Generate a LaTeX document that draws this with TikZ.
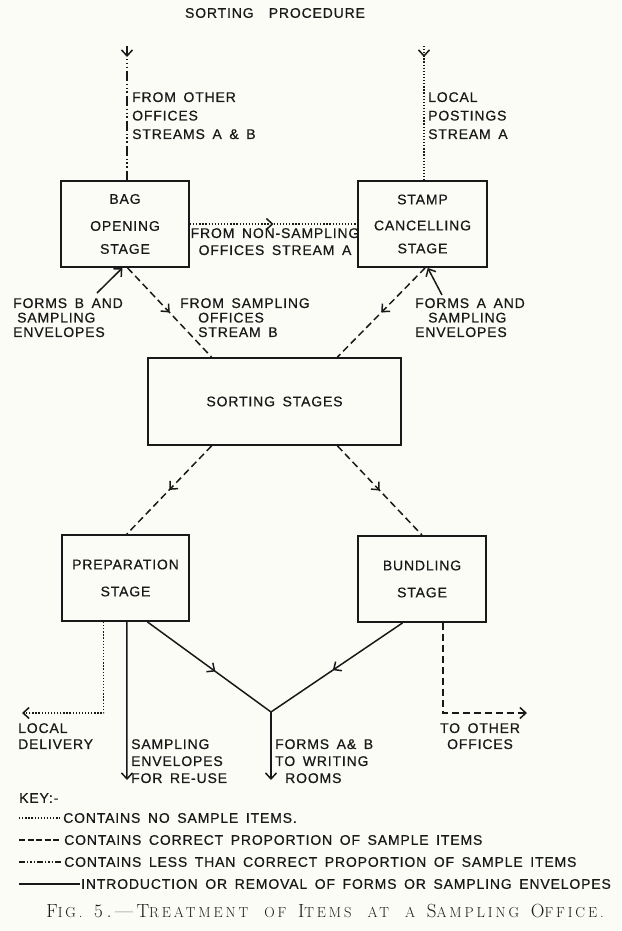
\documentclass[tikz,border=0pt]{standalone}
\usepackage{fontspec}
\usetikzlibrary{arrows.meta,decorations.markings,calc}
\newfontfamily\diag{Liberation Sans}[LetterSpace=6,WordSpace=1.6,FakeBold=0.6]
\newfontfamily\capfont{Latin Modern Roman}[LetterSpace=20,WordSpace=2.2]
\newcommand\capA[1]{{\fontsize{19}{20}\selectfont #1}}
\newcommand\capB[1]{{\fontsize{14.5}{20}\selectfont #1}}
\definecolor{paper}{RGB}{252,252,247}
\definecolor{ink}{RGB}{25,25,25}
\begin{document}
\begin{tikzpicture}[x=1pt,y=-1pt,
  every node/.style={text=ink},
  stagebox/.style={draw=ink,line width=1.8pt,inner sep=0pt,align=center,
    font=\diag\fontsize{14}{23}\selectfont},
  lbl/.style={inner sep=0pt,align=left,font=\diag\fontsize{14}{15}\selectfont},
  conn/.style={draw=ink,line width=1.5pt},
  nosample/.style={conn,dash pattern=on 1.3pt off 1.8pt},
  correct/.style={conn,dash pattern=on 7pt off 4pt},
  lesscorrect/.style={conn,dash pattern=on 10pt off 3pt on 1.3pt off 2.5pt on 1.3pt off 2.5pt on 1.3pt off 3pt},
  formline/.style={conn},
  tipend/.style={-{Straight Barb[length=6pt,width=11pt]}},
  midarrow/.style={postaction={decorate,decoration={markings,
    mark=at position #1 with {\arrow[ink]{Straight Barb[length=6pt,width=11pt]}}}}},
  midarrow/.default=0.5]
\fill[paper] (0,0) rectangle (621,931);
\useasboundingbox (0,0) rectangle (621,931);

% title
\node[lbl] (title) at (275,13) {SORTING\ \ PROCEDURE};

% boxes
\node[stagebox,minimum width=128pt,minimum height=86pt] (bag) at (125,224)
  {BAG\\[4pt]OPENING\\STAGE};
\node[stagebox,minimum width=129pt,minimum height=86pt] (stamp) at (422.5,224)
  {STAMP\\[3pt]CANCELLING\\STAGE};
\node[stagebox,minimum width=253pt,minimum height=87pt] (sorting) at (274.5,401.5)
  {SORTING STAGES};
\node[stagebox,minimum width=127pt,minimum height=86pt,
  font=\diag\fontsize{14}{27}\selectfont] (prep) at (125.5,578)
  {PREPARATION\\STAGE};
\node[stagebox,minimum width=128pt,minimum height=86pt,
  font=\diag\fontsize{14}{27}\selectfont] (bundling) at (422,579)
  {BUNDLING\\STAGE};

% labels
\node[lbl,anchor=north west,font=\diag\fontsize{14}{18.5}\selectfont] (fromother) at (132,92)
  {FROM OTHER\\OFFICES\\STREAMS A \& B};
\node[lbl,anchor=north west,font=\diag\fontsize{14}{18.5}\selectfont] (localpost) at (428,92)
  {LOCAL\\POSTINGS\\STREAM A};
\node[lbl,anchor=north,align=center,font=\diag\fontsize{14}{17}\selectfont] (nonsamp) at (275,228)
  {FROM NON-SAMPLING\\OFFICES STREAM A};
\node[lbl,anchor=north west,font=\diag\fontsize{14}{14.5}\selectfont] (formsB) at (13,298)
  {FORMS B AND\\\hspace*{4pt}SAMPLING\\ENVELOPES};
\node[lbl,anchor=north west,font=\diag\fontsize{14}{14.5}\selectfont] (fromsamp) at (180,298)
  {FROM SAMPLING\\\hspace*{18pt}OFFICES\\\hspace*{18pt}STREAM B};
\node[lbl,anchor=north west,font=\diag\fontsize{14}{14.5}\selectfont] (formsA) at (415,298)
  {FORMS A AND\\\hspace*{13pt}SAMPLING\\ENVELOPES};
\node[lbl,anchor=north west,font=\diag\fontsize{14}{16}\selectfont] (localdel) at (18,723)
  {LOCAL\\DELIVERY};
\node[lbl,anchor=north west,font=\diag\fontsize{14}{17}\selectfont] (reuse) at (131,739)
  {SAMPLING\\ENVELOPES\\FOR RE-USE};
\node[lbl,anchor=north west,font=\diag\fontsize{14}{17}\selectfont] (writing) at (275,739)
  {FORMS A\& B\\TO WRITING\\\hspace*{10pt}ROOMS};
\node[lbl,anchor=north,align=center,font=\diag\fontsize{14}{16}\selectfont] (toother) at (480,723)
  {TO OTHER\\OFFICES};

% free ends
\coordinate (topL) at (127,46);
\coordinate (topR) at (424,46);
\coordinate (fbs) at (97,293);
\coordinate (fas) at (442,295);
\coordinate (junc) at (271,712);
\coordinate (localend) at (22,713);
\coordinate (otherend) at (527,713);
\coordinate (reuseend) at (127,780);
\coordinate (writeend) at (271,780);

% top inputs
\draw[lesscorrect,midarrow=11pt] (topL) -- (topL |- bag.north);
\draw[nosample,midarrow=11pt] (topR) -- (topR |- stamp.north);
\draw[nosample,midarrow] (bag.east) -- (stamp.west);

% forms in
\draw[formline,tipend] (fbs) -- ($(bag.south west)!0.48!(bag.south east)$);
\draw[formline,tipend] (fas) -- ($(stamp.south west)!0.54!(stamp.south east)$);

% to sorting
\draw[correct,midarrow] ($(bag.south west)!0.52!(bag.south east)$) -- ($(sorting.north west)!0.253!(sorting.north east)$);
\draw[correct,midarrow] ($(stamp.south west)!0.52!(stamp.south east)$) -- ($(sorting.north west)!0.747!(sorting.north east)$);

% from sorting
\draw[correct,midarrow] ($(sorting.south west)!0.253!(sorting.south east)$) -- ($(prep.north west)!0.51!(prep.north east)$);
\draw[correct,midarrow] ($(sorting.south west)!0.747!(sorting.south east)$) -- ($(bundling.north west)!0.5!(bundling.north east)$);

% outputs
\draw[nosample,tipend] ($(prep.south west)!0.33!(prep.south east)$) |- (localend);
\draw[formline,tipend] ($(prep.south west)!0.51!(prep.south east)$) -- (reuseend);
\draw[formline,midarrow=0.55] ($(prep.south west)!0.67!(prep.south east)$) -- (junc);
\draw[formline,midarrow=0.53] ($(bundling.south west)!0.35!(bundling.south east)$) -- (junc);
\draw[formline,tipend] (junc) -- (writeend);
\draw[correct,tipend] ($(bundling.south west)!0.66!(bundling.south east)$) |- (otherend);

% key
\node[lbl,anchor=west] (keyhead) at (19,798) {KEY:-};
\node[lbl,anchor=west] (key1) at (63,818) {CONTAINS NO SAMPLE ITEMS.};
\node[lbl,anchor=west] (key2) at (64,840) {CONTAINS CORRECT PROPORTION OF SAMPLE ITEMS};
\node[lbl,anchor=west] (key3) at (64,862) {CONTAINS LESS THAN CORRECT PROPORTION OF SAMPLE ITEMS};
\node[lbl,anchor=west] (key4) at (81,884) {INTRODUCTION OR REMOVAL OF FORMS OR SAMPLING ENVELOPES};
\coordinate (k1) at (19,818);
\coordinate (k2) at (19,840);
\coordinate (k3) at (19,862);
\coordinate (k4) at (19,884);
\draw[nosample] (k1) -- ([xshift=-3pt]key1.west);
\draw[correct,dash pattern=on 6pt off 2.5pt] (k2) -- ([xshift=-3pt]key2.west);
\draw[lesscorrect,dash pattern=on 6pt off 2pt on 1.3pt off 2pt on 1.3pt off 2pt on 1.3pt off 2pt] (k3) -- ([xshift=-3pt]key3.west);
\draw[formline] (k4) -- ([xshift=-1pt]key4.west);

% caption
\node[inner sep=0pt,font=\capfont] (caption) at (325,911)
  {\capA{F}\capB{IG.} \capA{5.—T}\capB{REATMENT OF} \capA{I}\capB{TEMS AT A} \capA{S}\capB{AMPLING} \capA{O}\capB{FFICE.}};
\end{tikzpicture}
\end{document}
